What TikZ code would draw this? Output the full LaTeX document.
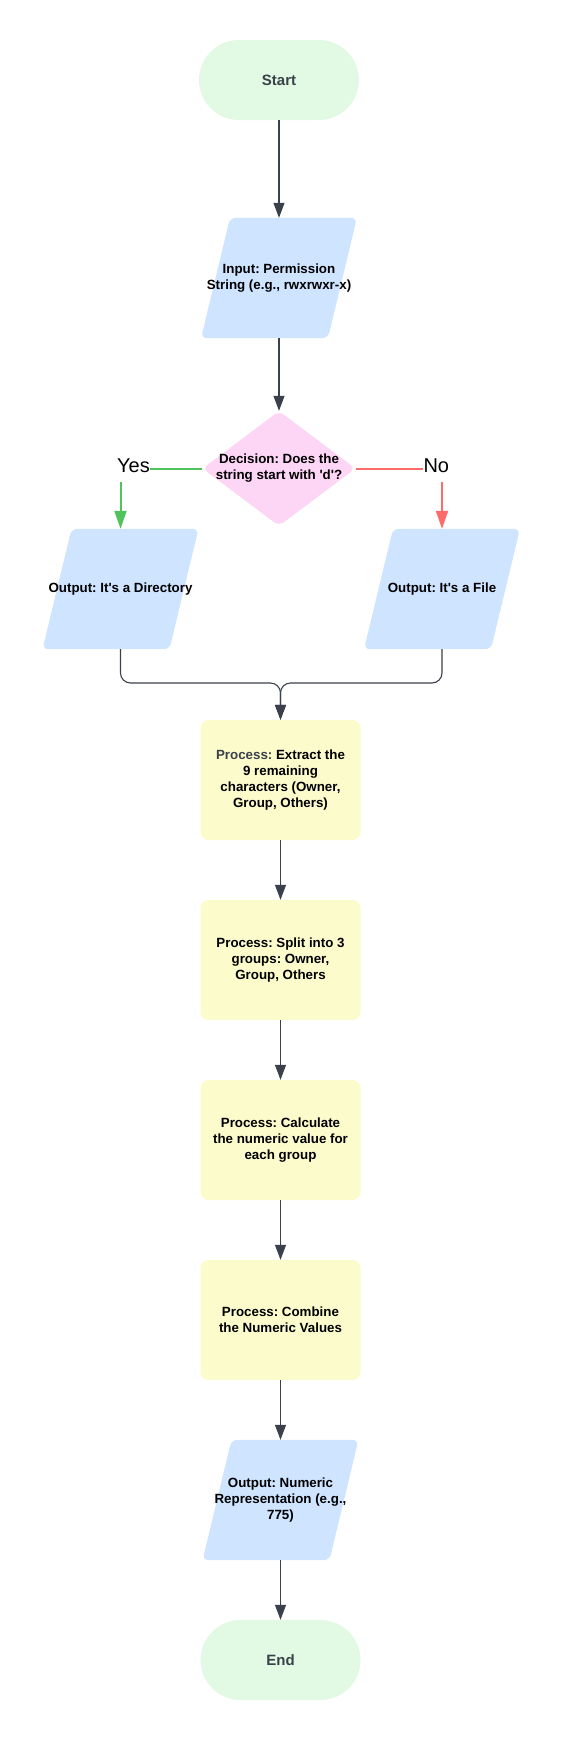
\documentclass[tikz,border=0pt]{standalone}
\usepackage{fontspec}
\setmainfont{Liberation Sans}
\usetikzlibrary{arrows.meta,shapes.geometric,backgrounds}
\definecolor{startfill}{HTML}{E2F9E3}
\definecolor{iofill}{HTML}{CFE4FF}
\definecolor{decfill}{HTML}{FDD5F5}
\definecolor{procfill}{HTML}{FCFBCB}
\definecolor{conncol}{HTML}{3A414A}
\definecolor{graytxt}{HTML}{3A414A}
\definecolor{yescol}{HTML}{50C35C}
\definecolor{nocol}{HTML}{FF6B6B}
\frenchspacing
\begin{document}
\begin{tikzpicture}[x=1pt,y=-1pt,
  every node/.style={font=\bfseries\fontsize{13.33}{16}\selectfont, align=center, inner sep=0pt},
  term/.style={fill=startfill, rounded corners=40pt, minimum width=160pt, minimum height=80pt, text=graytxt, font=\bfseries\fontsize{15}{18}\selectfont},
  proc/.style={fill=procfill, rounded corners=8pt, minimum width=160pt, minimum height=120pt},
  iobox/.style={minimum width=128pt, minimum height=120pt},
  decshape/.style={diamond, fill=decfill, rounded corners=6pt, minimum width=153pt, minimum height=115pt},
  lbl/.style={font=\fontsize{20}{24}\selectfont, text=black},
  conn/.style={draw=conncol, line width=1.1pt, -{Triangle[length=15pt,width=11pt]}},
  yesline/.style={draw=yescol, line width=2pt},
  noline/.style={draw=nocol, line width=2pt},
  yesarrow/.style={yesline, -{Triangle[length=18pt,width=12pt]}},
  noarrow/.style={noline, -{Triangle[length=18pt,width=12pt]}}
]
\useasboundingbox (0,0) rectangle (560,1740);

\node[term] (start) at (279,80) {Start};
\node[iobox] (inp) at (279,278) {Input: Permission\\String (e.g., rwxrwxr-x)};
\node[decshape] (dec) at (279,468.5) {};
\node (dect) at (dec.center) {Decision: Does the\\string start with \textquotesingle d\textquotesingle ?};
\node[iobox] (lout) at (120.5,589) {Output: It\textquotesingle s a Directory};
\node[iobox] (rout) at (442,589) {Output: It\textquotesingle s a File};
\node[proc] (p1) at (280.5,780) {\textcolor{graytxt}{Process:} Extract the\\9 remaining\\characters (Owner,\\Group, Others)};
\node[proc] (p2) at (280.5,960) {Process: Split into 3\\groups: Owner,\\Group, Others};
\node[proc] (p3) at (280.5,1140) {Process: Calculate\\the numeric value for\\each group};
\node[proc] (p4) at (280.5,1320) {Process: Combine\\the Numeric Values};
\node[iobox] (out) at (280.5,1500) {Output: Numeric\\Representation (e.g.,\\775)};
\node[term] (end) at (280.5,1660) {End};

\begin{scope}[on background layer]
\foreach \n in {inp,lout,rout,out}{
  \fill[iofill, rounded corners=6pt] ([xshift=-49pt]\n.north) -- ([xshift=78pt]\n.north) -- ([xshift=49pt]\n.south) -- ([xshift=-78pt]\n.south) -- cycle;
}
\end{scope}

\node[lbl, anchor=base east] (yes) at (150,472.7) {Yes};
\node[lbl, anchor=base west] (no) at (423.3,472.7) {No};
\coordinate (ycorner) at (lout.north |- dec.west);
\coordinate (ncorner) at (rout.north |- dec.east);
\coordinate (mj) at (280.5,683);

\draw[conn] (start.south) -- (inp.north);
\draw[conn] (inp.south) -- (dec.north);
\draw[yesline] (dec.west) -- (dec.west -| yes.east);
\draw[yesarrow] ([yshift=-13.5pt]ycorner) -- (lout.north);
\draw[noline] (dec.east) -- (dec.east -| no.west);
\draw[noarrow] ([yshift=-13.5pt]ncorner) -- (rout.north);
\draw[conn, rounded corners=10pt] (lout.south) |- (mj) -- (p1.north);
\draw[conn, rounded corners=10pt] (rout.south) |- (mj) -- (p1.north);
\draw[conn] (p1.south) -- (p2.north);
\draw[conn] (p2.south) -- (p3.north);
\draw[conn] (p3.south) -- (p4.north);
\draw[conn] (p4.south) -- (out.north);
\draw[conn] (out.south) -- (end.north);
\end{tikzpicture}
\end{document}
